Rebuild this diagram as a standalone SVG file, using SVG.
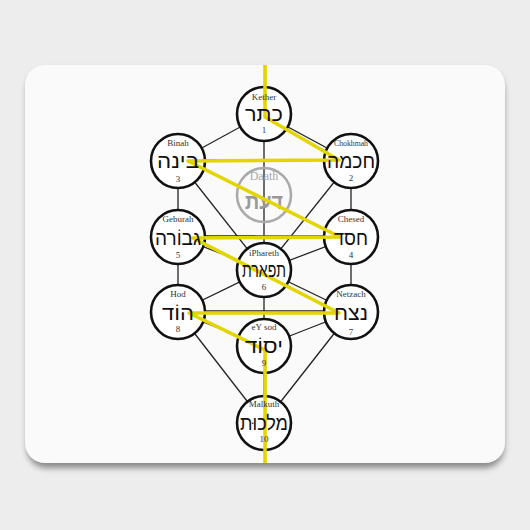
<svg xmlns="http://www.w3.org/2000/svg" width="530" height="530" viewBox="0 0 530 530">
<defs>
<filter id="sh" x="-10%" y="-10%" width="120%" height="130%"><feGaussianBlur stdDeviation="3"/></filter>
<style>
.node circle{fill:#ffffff;stroke:#111;stroke-width:2.6}
.lab{font-family:"Liberation Serif","DejaVu Serif",serif;font-size:9px;fill:#333;text-anchor:middle}
.num{font-family:"Liberation Serif","DejaVu Serif",serif;font-size:9px;fill:#333;text-anchor:middle}
.heb{font-family:"Liberation Sans","DejaVu Sans",sans-serif;font-size:20px;fill:#111;text-anchor:middle}
#connectors line{stroke:#222;stroke-width:1.3}
#flash{fill:none;stroke:#e3d500;stroke-width:3.6;stroke-linejoin:round}
</style>
</defs>
<rect x="0" y="0" width="530" height="530" fill="#ededed"/>
<rect x="27" y="70" width="477" height="398" rx="20" fill="#888" filter="url(#sh)"/>
<rect x="25" y="65" width="480" height="398" rx="20" fill="#fafafa"/>
<g id="connectors">
<line x1="264" y1="114" x2="178" y2="161"/>
<line x1="264" y1="114" x2="351" y2="161"/>
<line x1="264" y1="114" x2="264" y2="270"/>
<line x1="178" y1="160" x2="351" y2="160"/>
<line x1="178" y1="161" x2="178" y2="237"/>
<line x1="351" y1="161" x2="351" y2="237"/>
<line x1="178" y1="161" x2="264" y2="270"/>
<line x1="351" y1="161" x2="264" y2="270"/>
<line x1="178" y1="236" x2="351" y2="236"/>
<line x1="178" y1="237" x2="264" y2="270"/>
<line x1="351" y1="237" x2="264" y2="270"/>
<line x1="178" y1="237" x2="178" y2="312"/>
<line x1="351" y1="237" x2="351" y2="312"/>
<line x1="264" y1="270" x2="178" y2="312"/>
<line x1="264" y1="270" x2="351" y2="312"/>
<line x1="264" y1="270" x2="264" y2="346"/>
<line x1="178" y1="311" x2="351" y2="311"/>
<line x1="178" y1="312" x2="264" y2="346"/>
<line x1="351" y1="312" x2="264" y2="346"/>
<line x1="178" y1="312" x2="264" y2="423"/>
<line x1="351" y1="312" x2="264" y2="423"/>
<line x1="264" y1="346" x2="264" y2="423"/>
</g>
<g id="n1" class="node"><circle cx="264" cy="114" r="27"/></g>
<g id="n2" class="node"><circle cx="351" cy="161" r="27"/></g>
<g id="n3" class="node"><circle cx="178" cy="161" r="27"/></g>
<g id="n4" class="node"><circle cx="351" cy="237" r="27"/></g>
<g id="n5" class="node"><circle cx="178" cy="237" r="27"/></g>
<g id="n6" class="node"><circle cx="264" cy="270" r="27"/></g>
<g id="n7" class="node"><circle cx="351" cy="312" r="27"/></g>
<g id="n8" class="node"><circle cx="178" cy="312" r="27"/></g>
<g id="n9" class="node"><circle cx="264" cy="346" r="27"/></g>
<g id="n10" class="node"><circle cx="264" cy="423" r="27"/></g>
<g id="daath"><circle cx="264" cy="195" r="27" fill="none" stroke="#aaa" stroke-width="2.6"/>
<text x="264" y="180" font-family="Liberation Serif, DejaVu Serif, serif" font-size="12" fill="#aaa" text-anchor="middle">Daath</text>
<text x="264" y="209" font-family="Liberation Sans, DejaVu Sans, sans-serif" font-size="21" font-weight="bold" fill="#999" text-anchor="middle" textLength="38" lengthAdjust="spacingAndGlyphs">דעת</text></g>
<polyline id="flash" points="265,65 265,117 339,160 188,161 340,237 193,238 339,313 189,313 265,350 265,463"/>
<g id="texts">
<text class="lab" x="264" y="100">Kether</text><text class="heb" x="264" y="121" textLength="38" lengthAdjust="spacingAndGlyphs">כתר</text><text class="num" x="264" y="133">1</text>
<text class="lab" x="351" y="146" textLength="34" lengthAdjust="spacingAndGlyphs">Chokhmah</text><text class="heb" x="351" y="168" textLength="48" lengthAdjust="spacingAndGlyphs">חכמה</text><text class="num" x="351" y="181">2</text>
<text class="lab" x="178" y="146">Binah</text><text class="heb" x="178" y="168" textLength="42" lengthAdjust="spacingAndGlyphs">בינה</text><text class="num" x="178" y="182">3</text>
<text class="lab" x="351" y="222">Chesed</text><text class="heb" x="351" y="245" textLength="34" lengthAdjust="spacingAndGlyphs">חסד</text><text class="num" x="351" y="258">4</text>
<text class="lab" x="178" y="222">Geburah</text><text class="heb" x="178" y="245" textLength="46" lengthAdjust="spacingAndGlyphs">גבוֹרה</text><text class="num" x="178" y="258">5</text>
<text class="lab" x="264" y="256">iPhareth</text><text class="heb" x="264" y="277" textLength="44" lengthAdjust="spacingAndGlyphs">תפארת</text><text class="num" x="264" y="290">6</text>
<text class="lab" x="351" y="297">Netzach</text><text class="heb" x="351" y="320" textLength="34" lengthAdjust="spacingAndGlyphs">נצח</text><text class="num" x="351" y="335">7</text>
<text class="lab" x="178" y="297">Hod</text><text class="heb" x="178" y="320" textLength="32" lengthAdjust="spacingAndGlyphs">הוֹד</text><text class="num" x="178" y="332">8</text>
<text class="lab" x="264" y="330">eY sod</text><text class="heb" x="264" y="353" textLength="38" lengthAdjust="spacingAndGlyphs">יסוֹד</text><text class="num" x="264" y="366">9</text>
<text class="lab" x="264" y="407">Malkuth</text><text class="heb" x="264" y="430" textLength="48" lengthAdjust="spacingAndGlyphs">מלכוּת</text><text class="num" x="264" y="442">10</text>
</g>
</svg>
